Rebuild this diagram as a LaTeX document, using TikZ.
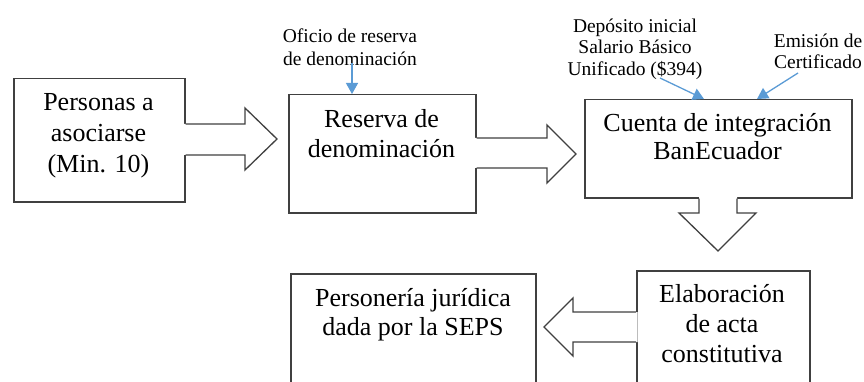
\documentclass[tikz,border=0pt]{standalone}
\usepackage{fontspec}
\setmainfont{Liberation Serif}
\usetikzlibrary{arrows.meta,calc}
\definecolor{edgegray}{HTML}{404040}
\definecolor{officeblue}{HTML}{5B9BD5}
\begin{document}
\begin{tikzpicture}[x=1pt,y=-1pt,
  box/.style={draw=edgegray, line width=1.5pt, fill=white, inner sep=0pt, anchor=north west},
  bigtxt/.style={align=center, inner sep=0pt, anchor=north, font=\fontsize{26}{30}\selectfont},
  smalltxt/.style={align=center, inner sep=0pt, anchor=north, font=\fontsize{19.5}{21.5}\selectfont},
  blockfill/.style={fill=white},
  blockline/.style={draw=edgegray, line width=1.3pt, line join=miter},
  info/.style={draw=officeblue, line width=1.3pt, -{Triangle[width=12pt,length=11pt]}}]
\useasboundingbox (0,0) rectangle (864,382);
\clip (0,0) rectangle (864,382);

% boxes
\node[box, minimum width=171pt, minimum height=123pt] (b1) at (13,78) {};
\node[box, minimum width=187pt, minimum height=118pt] (b2) at (288,94) {};
\node[box, minimum width=267pt, minimum height=98pt]  (b3) at (584,99) {};
\node[box, minimum width=173pt, minimum height=140pt] (b4) at (636,270) {};
\node[box, minimum width=245pt, minimum height=140pt] (b5) at (290,273) {};

% box texts
\node[bigtxt, font=\fontsize{26}{31}\selectfont] (t1) at (98.5,88.3) {\strut Personas a\\asociarse\\(Min. 10)};
\node[bigtxt] (t2) at (381.5,106) {\strut Reserva de\\denominación};
\node[bigtxt, font=\fontsize{26}{28}\selectfont] (t3) at (717.5,111.4) {\strut Cuenta de integración\\BanEcuador};
\node[bigtxt] (t4) at (722,281) {\strut Elaboración\\de acta\\constitutiva};
\node[bigtxt, font=\fontsize{26}{29}\selectfont] (t5) at (413,285.7) {\strut Personería jurídica\\dada por la SEPS};

% block arrows
% 1 -> 2
\fill[blockfill] (b1.east |- 0,124) ++(-1.5,0) -- (245,124) -- (245,108) -- (277,139) -- (245,170) -- (245,155) -- ($(b1.east |- 0,155)+(-1.5,0)$) -- cycle;
\draw[blockline] (b1.east |- 0,124) -- (245,124) -- (245,108) -- (277,139) -- (245,170) -- (245,155) -- (b1.east |- 0,155);
% 2 -> 3
\fill[blockfill] (b2.east |- 0,138) ++(-1.5,0) -- (547,138) -- (547,125) -- (576,154) -- (547,183) -- (547,168) -- ($(b2.east |- 0,168)+(-1.5,0)$) -- cycle;
\draw[blockline] (b2.east |- 0,138) -- (547,138) -- (547,125) -- (576,154) -- (547,183) -- (547,168) -- (b2.east |- 0,168);
% 3 -> 4 (down)
\fill[blockfill] (699,0 |- b3.south) ++(0,-1.5) -- (699,213) -- (679,213) -- (718,251) -- (756,213) -- (737,213) -- ($(737,0 |- b3.south)+(0,-1.5)$) -- cycle;
\draw[blockline] (699,0 |- b3.south) -- (699,213) -- (679,213) -- (718,251) -- (756,213) -- (737,213) -- (737,0 |- b3.south);
% 4 -> 5 (left)
\fill[blockfill] (b4.west |- 0,312) ++(1.5,0) -- (573,312) -- (573,298) -- (544,327) -- (573,356) -- (573,342) -- ($(b4.west |- 0,342)+(1.5,0)$) -- cycle;
\draw[blockline] (b4.west |- 0,312) -- (573,312) -- (573,298) -- (544,327) -- (573,356) -- (573,342) -- (b4.west |- 0,342);

% annotations
\node[smalltxt, font=\fontsize{19.5}{23}\selectfont] (l1) at (350,25.9) {\strut Oficio de reserva\\de denominación};
\node[smalltxt] (l2) at (635,17) {\strut Depósito inicial\\Salario Básico\\Unificado (\$394)};
\node[smalltxt, font=\fontsize{19.5}{21}\selectfont] (l3) at (818,32.3) {\strut Emisión de\\Certificado};

\coordinate (s1) at (352,63);
\coordinate (e1) at (b2.north -| 352,0);
\coordinate (s2) at (660,78);
\coordinate (e2) at (b3.north -| 704,0);
\coordinate (s3) at (798,73);
\coordinate (e3) at (b3.north -| 757,0);
\draw[info] (s1) -- (e1);
\draw[info] (s2) -- (e2);
\draw[info] (s3) -- (e3);
\end{tikzpicture}
\end{document}
